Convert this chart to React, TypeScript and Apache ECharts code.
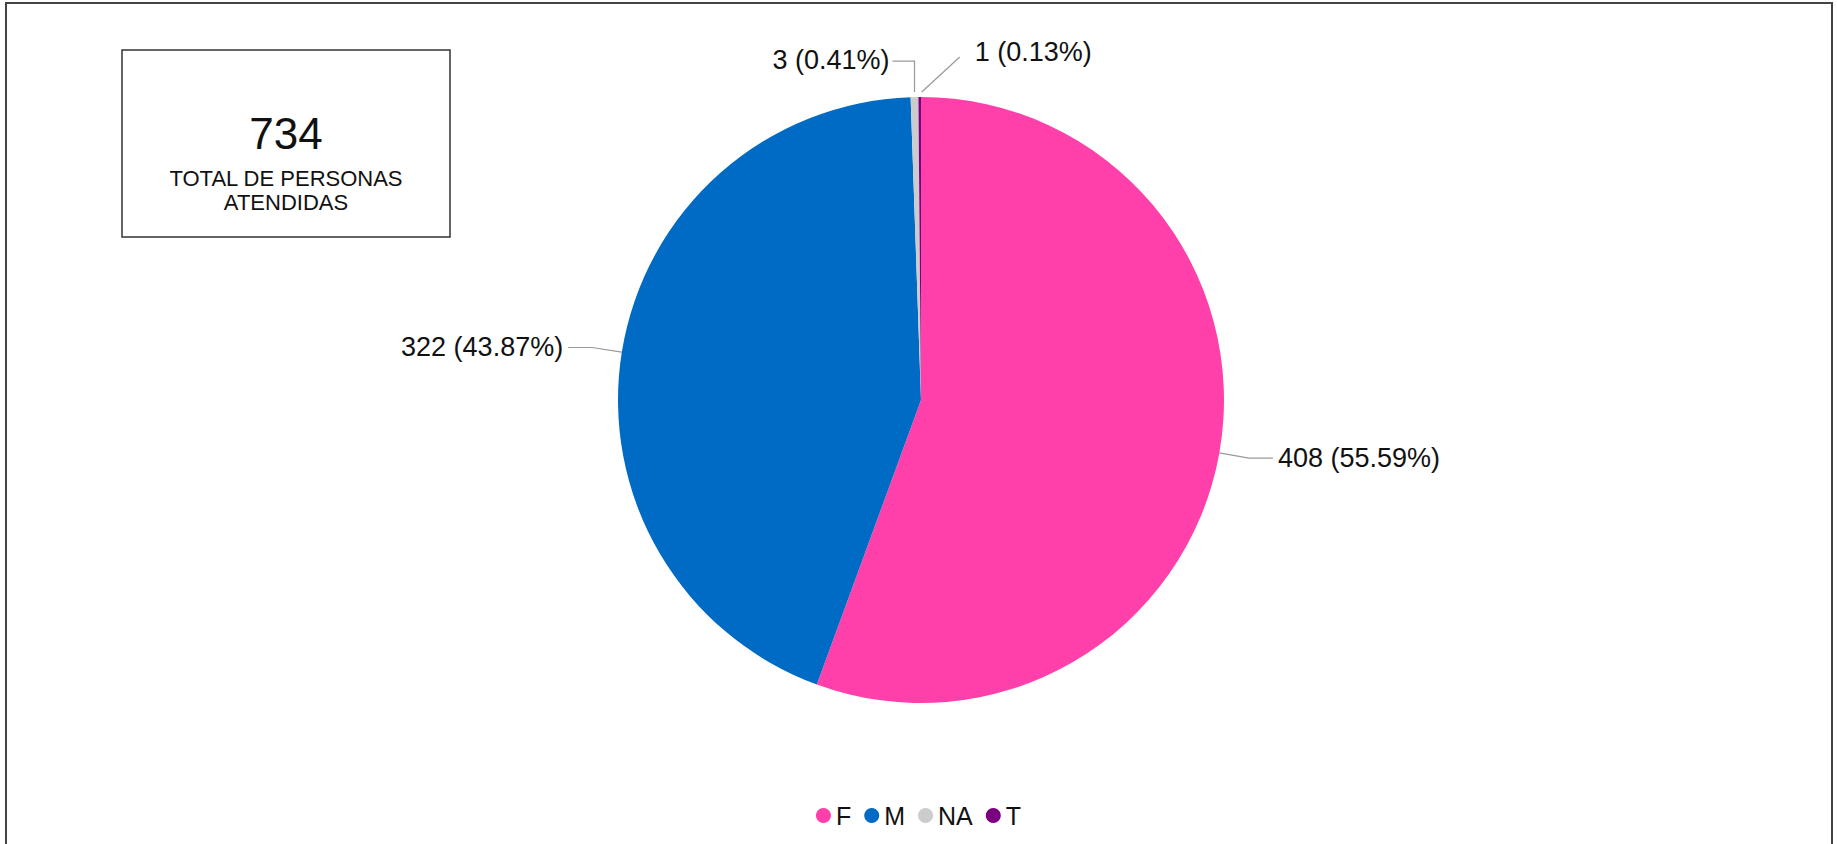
import React, { useEffect, useRef } from "react";
import * as echarts from "echarts";

const categories = ["F", "M", "NA", "T"];
const values = [408, 322, 3, 1];
const percentLabels = ["55.59", "43.87", "0.41", "0.13"];
const colors = ["#FF40AA", "#006BC4", "#CCCCCC", "#7B0080"];
const totalValue = 734;
const totalLabel = "TOTAL DE PERSONAS\nATENDIDAS";

const FONT = "'Liberation Sans', Arial, sans-serif";

export default function App() {
  const ref = useRef<HTMLDivElement>(null);
  useEffect(() => {
    document.body.style.margin = "0";
    const chart = echarts.init(ref.current!, undefined, { renderer: "svg" });
    chart.setOption({
      animation: false,
      backgroundColor: "#ffffff",
      textStyle: { fontFamily: FONT },
      color: colors,
      legend: {
        bottom: 11,
        left: "center",
        icon: "circle",
        itemWidth: 15,
        itemHeight: 15,
        itemGap: 13,
        textStyle: { fontSize: 25, color: "#111", fontFamily: FONT },
        data: categories,
      },
      graphic: [
        {
          type: "rect",
          shape: { x: 6, y: 3, width: 1826, height: 900 },
          style: { fill: "none", stroke: "#444", lineWidth: 2 },
          silent: true,
        },
        {
          type: "rect",
          shape: { x: 122, y: 50, width: 328, height: 187 },
          style: { fill: "none", stroke: "#333", lineWidth: 1.5 },
          silent: true,
        },
        {
          type: "text",
          x: 286,
          y: 133,
          style: {
            text: String(totalValue),
            fontSize: 44,
            fontFamily: FONT,
            fill: "#111",
            align: "center",
            verticalAlign: "middle",
          },
        },
        {
          type: "text",
          x: 286,
          y: 190,
          style: {
            text: totalLabel,
            fontSize: 22,
            lineHeight: 24,
            fontFamily: FONT,
            fill: "#111",
            align: "center",
            verticalAlign: "middle",
          },
        },
      ],
      series: [
        {
          type: "pie",
          center: [921, 400],
          radius: [0, 303],
          startAngle: 90,
          clockwise: true,
          avoidLabelOverlap: false,
          data: categories.map((c, i) => ({ name: c, value: values[i] })),
          label: {
            show: true,
            formatter: (p: any) => `${p.value} (${percentLabels[p.dataIndex]}%)`,
            fontSize: 27,
            color: "#111",
            fontFamily: FONT,
          },
          labelLine: {
            show: true,
            length: 30,
            length2: 24,
            lineStyle: { color: "#999", width: 1.2 },
          },
          labelLayout: (params: any) => {
            const pts = params.labelLinePoints;
            if (!pts || !pts.length) return {};
            const p0 = pts[0];
            if (params.dataIndex === 2) {
              return {
                x: p0[0] - 25,
                y: p0[1] - 37,
                align: "right",
                verticalAlign: "middle",
                labelLinePoints: [
                  [p0[0], p0[1] - 5],
                  [p0[0], p0[1] - 36],
                  [p0[0] - 22, p0[1] - 36],
                ],
              };
            }
            if (params.dataIndex === 3) {
              return {
                x: p0[0] + 55,
                y: p0[1] - 45,
                align: "left",
                verticalAlign: "middle",
                labelLinePoints: [
                  [p0[0] + 2, p0[1] - 5],
                  [p0[0] + 40, p0[1] - 40],
                  [p0[0] + 40, p0[1] - 40],
                ],
              };
            }
            return {};
          },
          itemStyle: { borderWidth: 0 },
          emphasis: { disabled: true },
        },
      ],
    });
    return () => chart.dispose();
  }, []);
  return <div ref={ref} style={{ width: 1837, height: 844 }} />;
}
